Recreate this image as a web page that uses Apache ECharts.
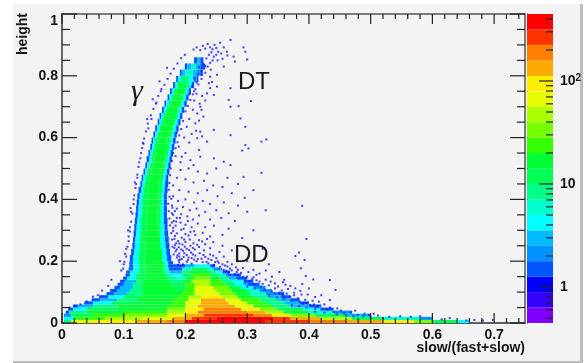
<!DOCTYPE html>
<html>
<head>
<meta charset="utf-8">
<style>
html,body{margin:0;padding:0;background:#fff;}
#panel{position:absolute;left:13px;top:4px;width:567px;height:357px;background:#f3f3f3;border-right:3px solid #bdbdbd;border-bottom:2px solid #bdbdbd;}
#chart{position:absolute;left:0;top:0;width:587px;height:363px;}
</style>
<script src="https://cdn.jsdelivr.net/npm/echarts@6/dist/echarts.min.js"></script>
</head>
<body>
<div id="panel"></div>
<div id="chart"></div>
<script>
// colour bands, bottom to top of the palette
var bandColors = ['#7f00ff','#3300ff','#0000ff','#0055ff','#0090ff','#00bbff','#00ffff','#00ffcc','#00ff88','#00ff55',
    '#00ff33','#33ff00','#77ff00','#aaff00','#e5ff00','#ffee00','#ffaa00','#ff7f00','#ff3300','#ff0000'];
var barEdges = [0.447,0.631,0.892,1.26,1.78,2.51,3.55,5.01,7.08,10,14.1,20,28.2,39.8,56.2,79.4,112,158,224,316,447];

var xMajor = [0,0.1,0.2,0.3,0.4,0.5,0.6,0.7];
var xMinor = [0.02,0.04,0.06,0.08,0.12,0.14,0.16,0.18,0.22,0.24,0.26,0.28,0.32,0.34,0.36,0.38,0.42,0.44,0.46,0.48,0.52,0.54,0.56,0.58,0.62,0.64,0.66,0.68,0.72,0.74];
var yMajor = [0,0.2,0.4,0.6,0.8,1];
var yMinor = [0.05,0.1,0.15,0.25,0.3,0.35,0.45,0.5,0.55,0.65,0.7,0.75,0.85,0.9,0.95];
var barMajor = [1,10,100];
var barMinor = [0.5,0.6,0.7,0.8,0.9,2,3,4,5,6,7,8,9,20,30,40,50,60,70,80,90,200,300,400];

// bottom edge of each row of the histogram, last value closes the top row
var rowEdges = [0,0.01,0.02,0.03,0.04,0.05,0.06,0.07,0.08,0.09,0.1,0.11,0.12,0.13,0.14,0.15,0.16,0.17,0.18,0.19,
    0.2,0.22,0.24,0.26,0.28,0.3,0.32,0.34,0.36,0.38,0.4,0.42,0.44,0.46,0.48,0.5,0.52,0.54,0.56,0.58,0.6,0.62,0.64,
    0.66,0.68,0.7,0.72,0.74,0.76,0.78,0.8,0.82,0.84,0.86,0.88];
// one list per row: x start, band, x start, band, ... x end
var rowRuns = [
    [0.003,8,0.015,14,0.05,15,0.12,16,0.17,17,0.2,19,0.33,18,0.4,17,0.46,16,0.52,15,0.57,12,0.6,9,0.64,6,0.66],
    [0.003,6,0.02,11,0.07,13,0.13,14,0.18,16,0.21,18,0.25,19,0.34,18,0.37,16,0.42,13,0.47,9,0.52,7,0.58,4,0.6],
    [0.003,4,0.015,9,0.05,11,0.1,12,0.17,14,0.2,16,0.23,18,0.31,17,0.34,15,0.37,12,0.41,9,0.46,5,0.5],
    [0.006,3,0.012,8,0.04,10,0.1,11,0.17,13,0.2,15,0.22,17,0.3,16,0.33,13,0.36,10,0.4,7,0.44,4,0.47],
    [0.01,3,0.018,6,0.04,9,0.09,10,0.17,12,0.2,15,0.23,17,0.29,15,0.32,12,0.35,9,0.39,6,0.42,3,0.44],
    [0.018,3,0.026,5,0.05,8,0.09,10,0.17,11,0.2,14,0.22,16,0.28,14,0.31,11,0.34,8,0.37,5,0.4,3,0.42],
    [0.036,3,0.05,6,0.08,9,0.13,10,0.18,11,0.2,14,0.225,16,0.27,14,0.3,11,0.33,8,0.36,5,0.385,3,0.4],
    [0.048,3,0.062,5,0.09,8,0.12,10,0.18,11,0.205,14,0.225,16,0.265,14,0.29,11,0.32,8,0.35,5,0.37,3,0.385],
    [0.06,3,0.075,6,0.1,9,0.13,10,0.19,11,0.205,13,0.225,15,0.26,13,0.285,10,0.31,8,0.335,5,0.355,3,0.37],
    [0.072,3,0.085,5,0.105,8,0.13,10,0.195,11,0.215,14,0.255,12,0.28,10,0.305,7,0.33,4,0.35,3,0.36],
    [0.078,3,0.09,5,0.11,8,0.13,10,0.185,9,0.2,11,0.215,14,0.25,12,0.275,10,0.3,7,0.32,4,0.34],
    [0.085,3,0.095,5,0.115,8,0.13,10,0.18,9,0.2,11,0.215,14,0.245,12,0.27,9,0.29,6,0.31,4,0.33],
    [0.09,3,0.1,5,0.115,8,0.13,10,0.175,9,0.2,11,0.215,13,0.24,11,0.265,9,0.28,6,0.3,3,0.32],
    [0.094,3,0.102,5,0.12,8,0.13,10,0.175,8,0.195,10,0.21,13,0.24,11,0.26,8,0.275,6,0.295,3,0.31],
    [0.099,3,0.106,6,0.12,9,0.135,10,0.17,8,0.185,7,0.2,10,0.215,12,0.24,10,0.255,8,0.27,5,0.285,3,0.3],
    [0.103,3,0.11,6,0.12,9,0.135,10,0.17,7,0.18,6,0.195,9,0.21,11,0.24,9,0.255,7,0.265,4,0.277,3,0.29],
    [0.104,3,0.11,6,0.125,9,0.135,10,0.165,7,0.175,5,0.195,8,0.205,10,0.24,8,0.25,6,0.26,3,0.272],
    [0.108,3,0.115,6,0.125,9,0.135,10,0.165,7,0.173,3,0.195,7,0.21,9,0.235,7,0.245,4,0.256],
    [0.109,3,0.115,6,0.125,9,0.135,10,0.165,7,0.172,3,0.2,5,0.215,6,0.24,3,0.248],
    [0.109,3,0.115,6,0.125,9,0.135,10,0.165,6,0.172,3,0.18],
    [0.11,3,0.115,6,0.124,9,0.134,10,0.163,6,0.17,3,0.177],
    [0.112,3,0.117,6,0.125,9,0.135,10,0.162,6,0.169,3,0.175],
    [0.114,3,0.118,6,0.126,9,0.135,10,0.16,6,0.168,3,0.174],
    [0.115,3,0.119,6,0.126,9,0.136,10,0.159,6,0.167,3,0.173],
    [0.116,3,0.12,6,0.127,9,0.136,10,0.157,9,0.16,6,0.166,3,0.172],
    [0.117,3,0.121,6,0.128,9,0.137,10,0.156,9,0.16,6,0.166,3,0.171],
    [0.118,3,0.122,6,0.128,9,0.137,10,0.155,9,0.16,6,0.165,3,0.171],
    [0.119,3,0.123,6,0.129,9,0.138,10,0.155,9,0.16,6,0.165,3,0.17],
    [0.12,3,0.124,6,0.13,9,0.138,10,0.155,9,0.16,6,0.165,3,0.17],
    [0.121,3,0.125,6,0.13,9,0.139,10,0.156,9,0.161,6,0.165,3,0.17],
    [0.122,3,0.126,6,0.131,9,0.139,10,0.156,9,0.161,6,0.165,3,0.17],
    [0.124,3,0.128,6,0.132,9,0.14,10,0.157,9,0.162,6,0.166,3,0.171],
    [0.127,3,0.13,6,0.134,9,0.141,10,0.158,9,0.163,6,0.167,3,0.172],
    [0.129,3,0.132,6,0.136,9,0.143,10,0.159,9,0.164,6,0.168,3,0.172],
    [0.132,3,0.135,6,0.139,9,0.145,10,0.161,9,0.166,6,0.17,3,0.174],
    [0.135,3,0.138,6,0.142,9,0.148,10,0.164,9,0.168,6,0.172,3,0.176],
    [0.137,3,0.141,6,0.145,9,0.15,10,0.166,9,0.17,6,0.174,3,0.178],
    [0.14,3,0.143,6,0.147,9,0.152,10,0.168,9,0.172,6,0.176,3,0.18],
    [0.143,3,0.146,6,0.15,9,0.154,10,0.17,9,0.174,6,0.178,3,0.182],
    [0.145,3,0.148,6,0.151,9,0.156,10,0.171,9,0.176,6,0.18,3,0.184],
    [0.148,3,0.151,6,0.155,9,0.159,10,0.174,9,0.178,6,0.182,3,0.186],
    [0.151,3,0.154,6,0.158,9,0.162,10,0.177,9,0.18,6,0.185,3,0.189],
    [0.155,3,0.158,6,0.162,9,0.166,10,0.18,9,0.184,6,0.188,3,0.192],
    [0.158,3,0.161,6,0.165,9,0.169,10,0.183,9,0.187,6,0.191,3,0.195],
    [0.162,3,0.165,6,0.169,9,0.173,10,0.187,9,0.19,6,0.194,3,0.198],
    [0.166,3,0.169,6,0.173,9,0.177,10,0.191,9,0.194,6,0.198,3,0.202],
    [0.171,3,0.174,6,0.178,9,0.182,10,0.194,9,0.197,6,0.201,3,0.205],
    [0.175,3,0.178,6,0.182,9,0.186,10,0.198,9,0.201,6,0.205,3,0.209],
    [0.18,3,0.183,6,0.187,9,0.202,8,0.206,6,0.21,3,0.214],
    [0.185,3,0.188,6,0.192,8,0.206,6,0.213,4,0.218,3,0.221],
    [0.191,3,0.194,5,0.2,7,0.212,5,0.219,4,0.224,3,0.228],
    [0.199,3,0.203,5,0.21,7,0.216,5,0.224,3,0.232],
    [0.214,3,0.219,5,0.224,3,0.229]
];
// single counts outside the dense regions
var speckPoints = [
    [0.297,0.878],[0.3,0.853],[0.273,0.916],[0.256,0.907],[0.294,0.892],[0.278,0.862],[0.28,0.846],[0.262,0.83],[0.251,0.803],[0.24,0.797],
    [0.238,0.776],[0.251,0.765],[0.235,0.743],[0.246,0.738],[0.273,0.76],[0.306,0.718],[0.286,0.702],[0.273,0.7],[0.27,0.722],[0.224,0.7],
    [0.219,0.678],[0.229,0.668],[0.216,0.646],[0.202,0.635],[0.224,0.619],[0.219,0.598],[0.235,0.587],[0.246,0.625],[0.273,0.608],[0.297,0.635],
    [0.289,0.662],[0.323,0.587],[0.331,0.594],[0.297,0.576],[0.292,0.558],[0.302,0.565],[0.189,0.571],[0.194,0.538],[0.208,0.527],[0.224,0.538],
    [0.246,0.533],[0.262,0.522],[0.273,0.511],[0.192,0.495],[0.213,0.511],[0.235,0.484],[0.323,0.486],[0.294,0.473],[0.236,0.83],[0.244,0.85],
    [0.25,0.868],[0.26,0.855],[0.267,0.878],[0.241,0.82],[0.232,0.81],[0.226,0.79],[0.243,0.78],[0.24,0.76],[0.232,0.72],[0.227,0.735],
    [0.223,0.71],[0.214,0.72],[0.218,0.742],[0.226,0.69],[0.212,0.69],[0.206,0.66],[0.222,0.655],[0.21,0.612],[0.217,0.622],[0.227,0.604],
    [0.198,0.6],[0.206,0.584],[0.222,0.56],[0.2,0.55],[0.184,0.54],[0.192,0.52],[0.205,0.5],[0.22,0.49],[0.25,0.5],[0.268,0.47],
    [0.186,0.47],[0.2,0.465],[0.213,0.455],[0.23,0.46],[0.245,0.445],[0.26,0.44],[0.285,0.45],[0.31,0.43],[0.18,0.445],[0.19,0.43],
    [0.205,0.425],[0.22,0.42],[0.235,0.43],[0.252,0.41],[0.275,0.42],[0.296,0.405],[0.18,0.41],[0.188,0.395],[0.2,0.4],[0.214,0.39],
    [0.228,0.395],[0.24,0.385],[0.262,0.39],[0.285,0.38],[0.178,0.38],[0.186,0.37],[0.196,0.375],[0.207,0.365],[0.218,0.37],[0.232,0.36],
    [0.25,0.365],[0.27,0.355],[0.3,0.36],[0.33,0.365],[0.389,0.379],[0.18,0.35],[0.186,0.34],[0.193,0.352],[0.203,0.345],[0.212,0.335],
    [0.222,0.348],[0.24,0.335],[0.258,0.34],[0.28,0.33],[0.178,0.325],[0.184,0.315],[0.192,0.325],[0.2,0.318],[0.21,0.31],[0.22,0.322],
    [0.232,0.31],[0.246,0.315],[0.27,0.305],[0.31,0.3],[0.18,0.298],[0.186,0.29],[0.193,0.302],[0.2,0.288],[0.208,0.295],[0.216,0.285],
    [0.228,0.292],[0.24,0.28],[0.26,0.285],[0.292,0.275],[0.396,0.272],[0.182,0.272],[0.188,0.265],[0.194,0.276],[0.2,0.262],[0.207,0.27],
    [0.213,0.258],[0.222,0.268],[0.232,0.255],[0.245,0.262],[0.26,0.25],[0.325,0.24],[0.183,0.252],[0.189,0.245],[0.195,0.254],[0.202,0.24],
    [0.208,0.25],[0.215,0.238],[0.222,0.246],[0.23,0.235],[0.24,0.242],[0.255,0.23],[0.275,0.235],[0.384,0.228],[0.378,0.217],[0.393,0.204],
    [0.184,0.232],[0.19,0.225],[0.196,0.234],[0.202,0.22],[0.209,0.228],[0.216,0.218],[0.223,0.226],[0.232,0.214],[0.24,0.222],[0.25,0.21],
    [0.262,0.215],[0.186,0.212],[0.191,0.205],[0.197,0.214],[0.204,0.204],[0.21,0.21],[0.218,0.2],[0.226,0.208],[0.234,0.198],[0.242,0.204],
    [0.254,0.195],[0.268,0.198],[0.3,0.2],[0.335,0.19],[0.19,0.196],[0.196,0.19],[0.202,0.198],[0.21,0.192],[0.246,0.188],[0.256,0.182],
    [0.264,0.186],[0.272,0.176],[0.282,0.18],[0.31,0.172],[0.33,0.17],[0.352,0.165],[0.387,0.177],[0.262,0.172],[0.27,0.164],[0.28,0.158],
    [0.29,0.162],[0.3,0.15],[0.315,0.156],[0.34,0.15],[0.36,0.14],[0.395,0.152],[0.407,0.141],[0.434,0.139],[0.285,0.145],[0.296,0.138],
    [0.308,0.142],[0.32,0.134],[0.33,0.14],[0.345,0.128],[0.358,0.132],[0.37,0.12],[0.389,0.126],[0.4,0.112],[0.443,0.107],[0.31,0.125],
    [0.322,0.118],[0.335,0.122],[0.345,0.112],[0.356,0.105],[0.366,0.11],[0.376,0.098],[0.386,0.104],[0.398,0.092],[0.41,0.084],[0.42,0.09],
    [0.345,0.095],[0.358,0.09],[0.37,0.085],[0.382,0.08],[0.394,0.075],[0.406,0.072],[0.416,0.069],[0.434,0.074],[0.39,0.062],[0.402,0.058],
    [0.414,0.052],[0.425,0.06],[0.43,0.042],[0.446,0.047],[0.44,0.036],[0.452,0.04],[0.457,0.031],[0.468,0.034],[0.479,0.026],[0.49,0.03],
    [0.497,0.026],[0.505,0.03],[0.512,0.024],[0.475,0.04],[0.53,0.02],[0.548,0.022],[0.565,0.02],[0.58,0.022],[0.615,0.012],[0.628,0.016],
    [0.655,0.008],[0.668,0.01],[0.682,0.008],[0.698,0.01],[0.096,0.17],[0.1,0.19],[0.094,0.2],[0.104,0.24],[0.108,0.28],[0.11,0.31],
    [0.112,0.36],[0.116,0.4],[0.12,0.45],[0.122,0.48],[0.128,0.55],[0.132,0.58],[0.14,0.63],[0.145,0.66],[0.152,0.71],[0.16,0.75],
    [0.08,0.14],[0.075,0.12],[0.065,0.105],[0.058,0.09],[0.05,0.085],[0.04,0.07],[0.03,0.06],[0.02,0.055],[0.012,0.05],
    // top of the gamma band
    [0.213,0.885],[0.218,0.892],[0.224,0.883],[0.228,0.897],[0.232,0.888],[0.236,0.903],[0.24,0.892],[0.244,0.886],[0.247,0.9],[0.25,0.89],
    [0.253,0.878],[0.242,0.876],[0.238,0.868],[0.246,0.862],[0.252,0.85],[0.258,0.872],[0.262,0.892],[0.268,0.866],[0.234,0.856],[0.24,0.842],
    [0.228,0.84],[0.222,0.828],[0.232,0.832],[0.226,0.815],[0.22,0.805],[0.214,0.792],[0.218,0.778],[0.21,0.765],[0.214,0.75],[0.206,0.74],
    // along both edges of the band
    [0.156,0.735],[0.161,0.757],[0.166,0.771],[0.171,0.79],[0.176,0.807],[0.181,0.823],[0.187,0.84],[0.193,0.857],[0.199,0.868],[0.148,0.693],
    [0.153,0.713],[0.144,0.672],[0.139,0.645],[0.136,0.62],[0.133,0.597],[0.13,0.566],[0.127,0.533],[0.124,0.505],[0.122,0.47],[0.119,0.437],
    [0.117,0.413],[0.116,0.385],[0.114,0.354],[0.112,0.328],[0.11,0.296],[0.108,0.265],[0.106,0.247],[0.104,0.215],[0.101,0.198],[0.099,0.176],
    [0.102,0.224],[0.107,0.3],[0.111,0.372],[0.118,0.455],[0.125,0.52],[0.131,0.583],[0.138,0.66],[0.147,0.724],[0.158,0.782],[0.17,0.826],
    [0.196,0.654],[0.193,0.628],[0.19,0.607],[0.187,0.585],[0.184,0.566],[0.18,0.55],[0.178,0.525],[0.176,0.5],[0.175,0.478],[0.174,0.453],
    [0.173,0.431],[0.174,0.409],[0.172,0.386],[0.173,0.362],[0.174,0.338],[0.175,0.316],[0.177,0.291],[0.178,0.27],[0.179,0.247],[0.181,0.222],
    [0.2,0.685],[0.204,0.702],[0.208,0.722],[0.212,0.74],[0.216,0.757],[0.221,0.772],[0.226,0.803],[0.182,0.594],[0.186,0.616],[0.178,0.542],
    // busy region right of the band and over the DD bump
    [0.177,0.402],[0.179,0.373],[0.178,0.355],[0.181,0.33],[0.18,0.308],[0.183,0.282],[0.185,0.258],[0.186,0.238],[0.187,0.219],[0.189,0.203],
    [0.183,0.362],[0.191,0.34],[0.197,0.305],[0.185,0.328],[0.204,0.33],[0.182,0.243],[0.19,0.257],[0.198,0.27],[0.205,0.283],[0.214,0.297],
    [0.193,0.238],[0.199,0.247],[0.206,0.236],[0.212,0.243],[0.219,0.253],[0.227,0.264],[0.235,0.272],[0.19,0.215],[0.198,0.226],[0.205,0.212],
    [0.212,0.222],[0.22,0.207],[0.229,0.22],[0.237,0.208],[0.245,0.218],[0.252,0.2],[0.188,0.188],[0.194,0.207],[0.214,0.205],[0.228,0.197],
    [0.237,0.193],[0.248,0.197],[0.26,0.19],[0.268,0.183],[0.275,0.19],[0.285,0.172],[0.293,0.178],[0.258,0.174],[0.266,0.168],[0.275,0.17],
    [0.285,0.155],[0.293,0.15],[0.302,0.165],[0.31,0.148],[0.32,0.16],[0.272,0.155],[0.283,0.165],[0.296,0.128],[0.304,0.135],[0.315,0.138],
    [0.325,0.126],[0.338,0.134],[0.35,0.118],[0.362,0.124],[0.378,0.112],[0.3,0.118],[0.312,0.112],[0.328,0.108],[0.34,0.102],[0.352,0.098],
    [0.364,0.095],[0.376,0.09],[0.388,0.092],[0.335,0.088],[0.348,0.082],[0.36,0.078],[0.372,0.072],[0.385,0.068],[0.396,0.064],[0.408,0.06],
    [0.372,0.058],[0.384,0.055],[0.396,0.05],[0.41,0.046],[0.42,0.044],[0.434,0.05],[0.41,0.036],[0.425,0.034],[0.445,0.028],[0.46,0.024],
    [0.472,0.022],[0.488,0.022],[0.5,0.018],[0.52,0.016]
];

function makeCells(){
    var cells = [];
    for(var i=0;i<rowRuns.length;i++){
        var runs = rowRuns[i];
        for(var j=0;j+2<runs.length;j+=2){
            cells.push([runs[j],runs[j+2],rowEdges[i],rowEdges[i+1],runs[j+1]]);
        }
    }
    return cells;
}
function makeBarCells(){
    var cells = [];
    for(var i=0;i<bandColors.length;i++){
        cells.push([0,1,barEdges[i],barEdges[i+1],i]);
    }
    return cells;
}
function renderCell(params,api){
    var a = api.coord([api.value(0),api.value(3)]);
    var b = api.coord([api.value(1),api.value(2)]);
    return {
        type:'rect',
        shape:{x:a[0],y:a[1],width:b[0]-a[0],height:b[1]-a[1]},
        style:{fill:bandColors[api.value(4)],stroke:null}
    };
}
// a tick is [x, y, pixels across, pixels down] starting at a point on the frame
function renderTick(params,api){
    var p = api.coord([api.value(0),api.value(1)]);
    return {
        type:'line',
        shape:{x1:p[0],y1:p[1],x2:p[0]+api.value(2),y2:p[1]+api.value(3)},
        style:{stroke:'#222222',lineWidth:1.2}
    };
}
function makePlotTicks(){
    var ticks = [];
    for(var i=0;i<xMajor.length;i++){ ticks.push([xMajor[i],0,0,-10]); ticks.push([xMajor[i],1,0,10]); }
    for(i=0;i<xMinor.length;i++){ ticks.push([xMinor[i],0,0,-5]); ticks.push([xMinor[i],1,0,5]); }
    for(i=0;i<yMajor.length;i++){ ticks.push([0,yMajor[i],15,0]); ticks.push([0.75,yMajor[i],-15,0]); }
    for(i=0;i<yMinor.length;i++){ ticks.push([0,yMinor[i],8,0]); ticks.push([0.75,yMinor[i],-8,0]); }
    return ticks;
}
function makeBarTicks(){
    var ticks = [];
    for(var i=0;i<barMajor.length;i++) ticks.push([1,barMajor[i],-14,0]);
    for(i=0;i<barMinor.length;i++) ticks.push([1,barMinor[i],-7,0]);
    return ticks;
}

var labelFont = 'Liberation Sans';
var labelColor = '#151515';
var myChart = echarts.init(document.getElementById('chart'),null,{renderer:'canvas'});
var option = {
    animation:false,
    backgroundColor:'transparent',
    graphic:[
        {type:'text',x:525,y:348,style:{text:'slow/(fast+slow)',align:'right',verticalAlign:'middle',font:'bold 14px "Liberation Sans"',fill:labelColor}},
        {type:'text',x:23,y:13,rotation:Math.PI/2,style:{text:'height',align:'right',verticalAlign:'middle',font:'bold 14px "Liberation Sans"',fill:labelColor}},
        {type:'text',x:238,y:82,z:10,style:{text:'DT',align:'left',verticalAlign:'middle',font:'24px "Liberation Sans"',fill:'#1a1a1a'}},
        {type:'text',x:234,y:255,z:10,style:{text:'DD',align:'left',verticalAlign:'middle',font:'24px "Liberation Sans"',fill:'#1a1a1a'}},
        {type:'text',x:131,y:92,z:10,style:{text:'γ',align:'left',verticalAlign:'middle',font:'italic 30px "Liberation Serif"',fill:'#1a1a1a'}}
    ],
    grid:[
        {left:62,top:14,width:463,height:309,show:true,borderColor:'#555',borderWidth:1.5,backgroundColor:'transparent'},
        {left:527,top:14,width:26,height:309,show:false}
    ],
    xAxis:[
        {
            type:'value',gridIndex:0,min:0,max:0.75,interval:0.1,
            axisLine:{show:true,onZero:false,lineStyle:{color:'#555',width:1.5}},
            axisTick:{show:false},
            axisLabel:{show:true,margin:5,customValues:xMajor,hideOverlap:false,fontFamily:labelFont,fontWeight:'bold',fontSize:14,color:labelColor},
            splitLine:{show:false}
        },
        {type:'value',gridIndex:1,min:0,max:1,show:false}
    ],
    yAxis:[
        {
            type:'value',gridIndex:0,min:0,max:1,interval:0.2,
            axisLine:{show:true,onZero:false,lineStyle:{color:'#666',width:2}},
            axisTick:{show:false},
            axisLabel:{show:true,margin:4,customValues:yMajor,verticalAlignMaxLabel:'top',hideOverlap:false,fontFamily:labelFont,fontWeight:'bold',fontSize:14,color:labelColor},
            splitLine:{show:false}
        },
        {
            type:'log',logBase:10,gridIndex:1,position:'right',min:0.447,max:447,
            axisLine:{show:true,lineStyle:{color:'#222',width:1}},
            axisTick:{show:false},
            axisLabel:{
                show:true,margin:7,customValues:barMajor,hideOverlap:false,align:'left',
                fontFamily:labelFont,fontWeight:'bold',fontSize:14,color:labelColor,
                formatter:function(v){return v>=100?'10{sup|2}':String(Math.round(v));},
                rich:{sup:{fontFamily:labelFont,fontWeight:'bold',fontSize:10,color:labelColor,verticalAlign:'top',padding:[0,0,6,0]}}
            },
            splitLine:{show:false}
        }
    ],
    series:[
        {type:'custom',xAxisIndex:0,yAxisIndex:0,silent:true,clip:true,renderItem:renderCell,data:makeCells(),z:2},
        {type:'scatter',xAxisIndex:0,yAxisIndex:0,silent:true,symbol:'rect',symbolSize:2,itemStyle:{color:'#1414ff',opacity:0.8},data:speckPoints,z:3},
        {type:'custom',xAxisIndex:0,yAxisIndex:0,silent:true,renderItem:renderTick,data:makePlotTicks(),z:7},
        {type:'custom',xAxisIndex:1,yAxisIndex:1,silent:true,renderItem:renderCell,data:makeBarCells(),z:2},
        {type:'custom',xAxisIndex:1,yAxisIndex:1,silent:true,renderItem:renderTick,data:makeBarTicks(),z:7}
    ]
};
myChart.setOption(option);
</script>
</body>
</html>
